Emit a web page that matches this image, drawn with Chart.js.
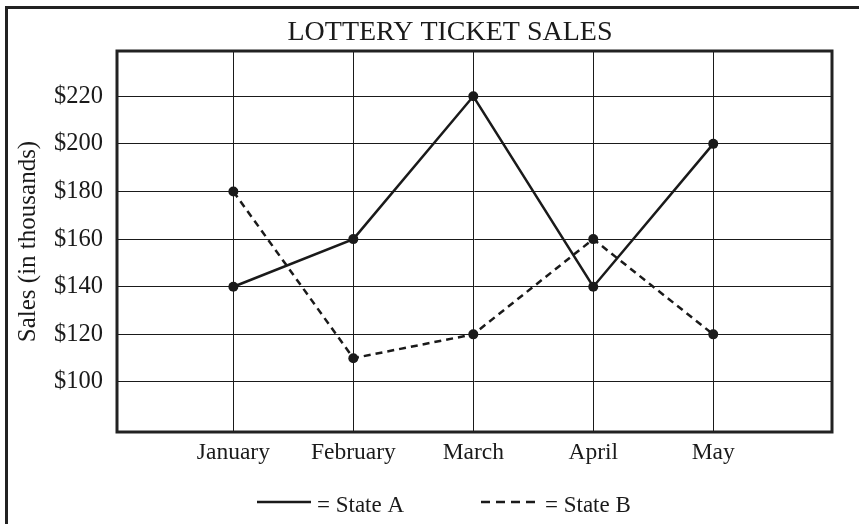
<!DOCTYPE html>
<html>
<head>
<meta charset="utf-8">
<title>Lottery Ticket Sales</title>
<script src="https://cdn.jsdelivr.net/npm/chart.js@4/dist/chart.umd.min.js"></script>
<style>
  html, body { margin: 0; padding: 0; background: #fff; }
  #wrap { width: 859px; height: 524px; }
</style>
</head>
<body>
<div id="wrap"><canvas id="myChart" width="859" height="524"></canvas></div>
<script>
/* chart data */
var months = ['January', 'February', 'March', 'April', 'May'];
var stateA = [140, 160, 220, 140, 200];
var stateB = [180, 110, 120, 160, 120];
var yTicks = [100, 120, 140, 160, 180, 200, 220];
var chartTitle = 'LOTTERY TICKET SALES';
var yTitle = 'Sales (in thousands)';
var legendText = ['= State A', '= State B'];

var serif = '"Liberation Serif", "Times New Roman", serif';
var ink = '#1a1a1a';

/* turn a series into x/y points so x can be a linear scale */
function toPoints(values) {
  return values.map(function(v, i) { return {x: i, y: v}; });
}

/* frame, title and the little legend under the chart */
var decorPlugin = {
  id: 'decor',
  beforeDraw: function(chart) {
    var ctx = chart.ctx;
    ctx.save();
    ctx.fillStyle = '#fff';
    ctx.fillRect(0, 0, chart.width, chart.height);
    // outer frame (cropped at right and bottom)
    ctx.strokeStyle = '#222';
    ctx.lineWidth = 3;
    ctx.strokeRect(6.5, 7.5, 1000, 1000);
    // title
    ctx.fillStyle = ink;
    ctx.font = '28px ' + serif;
    ctx.textAlign = 'center';
    ctx.textBaseline = 'alphabetic';
    ctx.fillText(chartTitle, 450, 39.5);
    ctx.restore();
  },
  afterDraw: function(chart) {
    var ctx = chart.ctx;
    var area = chart.chartArea;
    ctx.save();
    // plot box
    ctx.strokeStyle = '#222';
    ctx.lineWidth = 3;
    ctx.strokeRect(area.left, area.top, area.right - area.left, area.bottom - area.top);

    // legend
    var items = [{x1: 257, x2: 311, tx: 317}, {x1: 481, x2: 535, tx: 545}];
    ctx.font = '23px ' + serif;
    ctx.textAlign = 'left';
    ctx.textBaseline = 'alphabetic';
    items.forEach(function(it, i) {
      ctx.beginPath();
      ctx.lineWidth = 2.5;
      ctx.strokeStyle = ink;
      ctx.setLineDash(i == 0 ? [] : [9, 6]);
      ctx.moveTo(it.x1, 502);
      ctx.lineTo(it.x2, 502);
      ctx.stroke();
      ctx.setLineDash([]);
      ctx.fillStyle = ink;
      ctx.fillText(legendText[i], it.tx, 512);
    });
    ctx.restore();
  }
};

var config = {
  type: 'line',
  data: {
    datasets: [{
      label: 'State A',
      data: toPoints(stateA),
      borderColor: ink,
      backgroundColor: ink,
      borderWidth: 2.5,
      pointRadius: 5,
      pointBorderWidth: 0,
      tension: 0
    }, {
      label: 'State B',
      data: toPoints(stateB),
      borderColor: ink,
      backgroundColor: ink,
      borderWidth: 2.5,
      borderDash: [7, 5],
      pointRadius: 5,
      pointBorderWidth: 0,
      tension: 0
    }]
  },
  options: {
    responsive: false,
    animation: false,
    layout: { padding: { left: 0, right: 27, top: 51, bottom: 0 } },
    plugins: {
      legend: { display: false },
      title: { display: false },
      tooltip: { enabled: false }
    },
    scales: {
      x: {
        type: 'linear',
        min: -0.97,
        max: 4.99,
        afterBuildTicks: function(scale) {
          scale.ticks = months.map(function(m, i) { return {value: i}; });
        },
        afterFit: function(scale) { scale.height = 92; },
        grid: { color: ink, lineWidth: 1, drawTicks: false },
        border: { display: false },
        ticks: {
          padding: 7,
          color: ink,
          font: { family: serif, size: 23.5 },
          maxRotation: 0,
          autoSkip: false,
          callback: function(v) { return months[v]; }
        }
      },
      y: {
        min: 79,
        max: 239,
        afterBuildTicks: function(scale) {
          scale.ticks = yTicks.map(function(v) { return {value: v}; });
        },
        afterFit: function(scale) { scale.width = 117; },
        grid: { color: ink, lineWidth: 1, drawTicks: false },
        border: { display: false },
        ticks: {
          padding: 14,
          color: ink,
          font: { family: serif, size: 24.5 },
          callback: function(v) { return '$' + v; }
        },
        title: {
          display: true,
          text: yTitle,
          color: ink,
          font: { family: serif, size: 25 },
          padding: { top: 13, bottom: 0 }
        }
      }
    }
  },
  plugins: [decorPlugin]
};

window.onload = function() {
  var ctx = document.getElementById('myChart').getContext('2d');
  window.salesChart = new Chart(ctx, config);
};
</script>
</body>
</html>
